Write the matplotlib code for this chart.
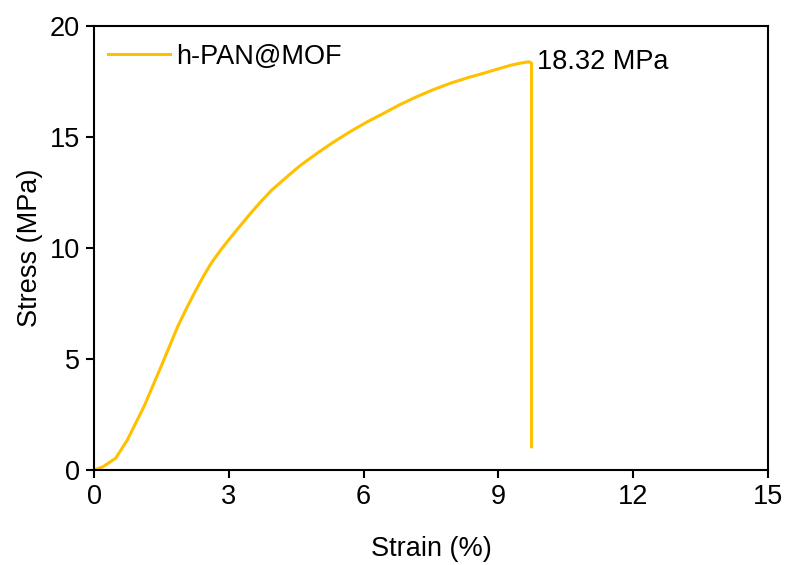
import matplotlib.pyplot as plt

plt.rcParams['font.family'] = ['Liberation Sans', 'DejaVu Sans']

# stress-strain curve
strain = [0, 0.2, 0.48, 0.74, 1.11, 1.49, 1.86, 2.05, 2.23, 2.45, 2.62, 2.82, 3.05, 3.27,
          3.5, 3.71, 3.95, 4.21, 4.58, 4.96, 5.33, 5.70, 6.07, 6.44, 6.8, 7.19, 7.56,
          7.93, 8.3, 8.67, 9.0, 9.27, 9.5, 9.68, 9.74, 9.74]
stress = [0, 0.15, 0.53, 1.35, 2.85, 4.65, 6.45, 7.25, 7.96, 8.78, 9.35, 9.91, 10.5,
          11.04, 11.6, 12.08, 12.6, 13.06, 13.7, 14.26, 14.77, 15.24, 15.67, 16.06,
          16.45, 16.82, 17.14, 17.42, 17.66, 17.87, 18.07, 18.23, 18.33, 18.39, 18.32,
          1.05]
peak_label = "18.32 MPa"

fs = 19.5
fig, ax = plt.subplots(figsize=(7.9, 5.65), dpi=100)
ax.plot(strain, stress, color='#FFC000', lw=2.2, label='h-PAN@MOF')
ax.text(9.85, 18.4, peak_label, fontsize=fs, va='center', ha='left')

ax.set_xlim(0, 15)
ax.set_ylim(0, 20)
ax.set_xticks([0, 3, 6, 9, 12, 15])
ax.set_yticks([0, 5, 10, 15, 20])
ax.tick_params(labelsize=fs, width=1.5, length=6, direction='out', pad=4)
for s in ax.spines.values():
    s.set_linewidth(1.5)
ax.set_xlabel('Strain (%)', fontsize=fs, labelpad=19)
ax.set_ylabel('Stress (MPa)', fontsize=fs, labelpad=5)
ax.legend(loc='upper left', bbox_to_anchor=(0.0, 0.99), frameon=False, fontsize=fs,
          handlelength=2.3, borderaxespad=0.1, handletextpad=0.25)

plt.subplots_adjust(left=0.119, right=0.972, top=0.954, bottom=0.168)
plt.savefig('out.png')
